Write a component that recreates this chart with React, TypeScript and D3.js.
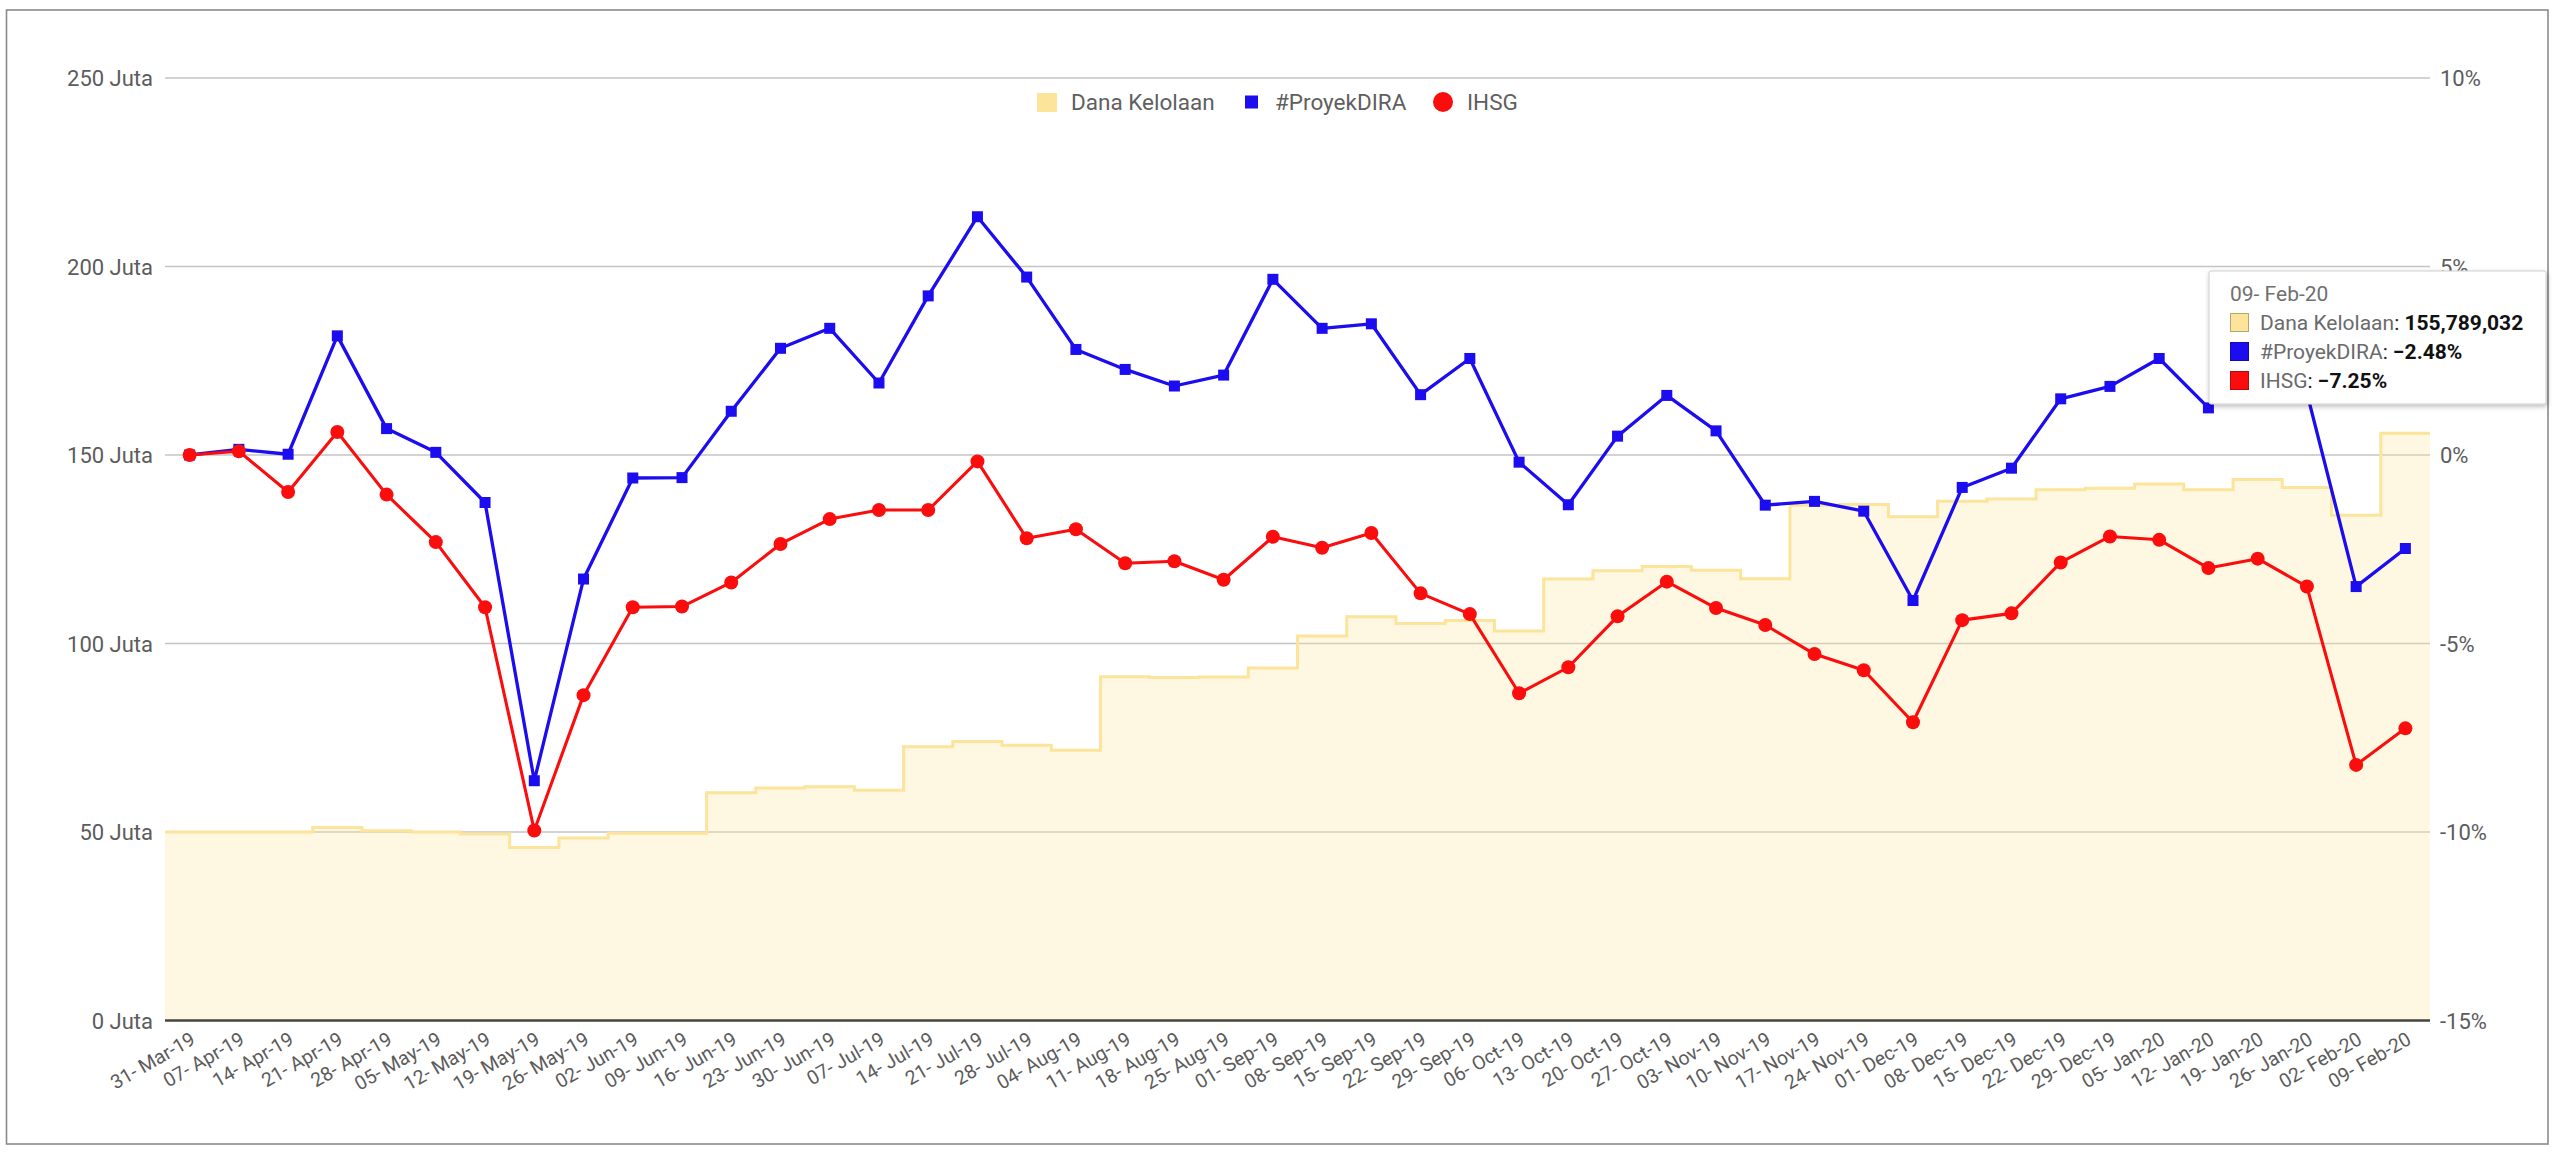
import React from "react";
import * as d3 from "d3";

const dates = [
  "31- Mar-19", "07- Apr-19", "14- Apr-19", "21- Apr-19", "28- Apr-19",
  "05- May-19", "12- May-19", "19- May-19", "26- May-19", "02- Jun-19",
  "09- Jun-19", "16- Jun-19", "23- Jun-19", "30- Jun-19", "07- Jul-19",
  "14- Jul-19", "21- Jul-19", "28- Jul-19", "04- Aug-19", "11- Aug-19",
  "18- Aug-19", "25- Aug-19", "01- Sep-19", "08- Sep-19", "15- Sep-19",
  "22- Sep-19", "29- Sep-19", "06- Oct-19", "13- Oct-19", "20- Oct-19",
  "27- Oct-19", "03- Nov-19", "10- Nov-19", "17- Nov-19", "24- Nov-19",
  "01- Dec-19", "08- Dec-19", "15- Dec-19", "22- Dec-19", "29- Dec-19",
  "05- Jan-20", "12- Jan-20", "19- Jan-20", "26- Jan-20", "02- Feb-20",
  "09- Feb-20",
];

// Dana Kelolaan in Juta (millions of rupiah)
const danaKelolaan = [
  50.0, 50.0, 50.0, 51.2, 50.3, 50.0, 49.5, 45.9, 48.4, 49.7,
  49.7, 60.4, 61.7, 62.0, 61.1, 72.6, 74.0, 73.0, 71.7, 91.2,
  91.0, 91.1, 93.5, 102.0, 107.1, 105.3, 106.1, 103.3, 117.1, 119.3,
  120.4, 119.4, 117.2, 136.7, 136.9, 133.6, 137.7, 138.3, 140.8, 141.2,
  142.3, 140.8, 143.5, 141.4, 134.0, 155.789032,
];

// #ProyekDIRA return, %
const proyekDira = [
  0.0, 0.15, 0.02, 3.16, 0.7, 0.07, -1.26, -8.64, -3.29, -0.61,
  -0.6, 1.16, 2.83, 3.36, 1.91, 4.22, 6.32, 4.72, 2.8, 2.27,
  1.83, 2.12, 4.66, 3.36, 3.48, 1.6, 2.56, -0.19, -1.32, 0.5,
  1.58, 0.64, -1.33, -1.23, -1.49, -3.86, -0.86, -0.35, 1.49, 1.82,
  2.56, 1.25, 3.4, 1.65, -3.49, -2.48,
];

// IHSG return, %
const ihsg = [
  0.0, 0.1, -0.98, 0.61, -1.05, -2.31, -4.04, -9.96, -6.37, -4.04,
  -4.02, -3.38, -2.36, -1.7, -1.46, -1.46, -0.17, -2.21, -1.97, -2.87,
  -2.82, -3.31, -2.17, -2.46, -2.07, -3.67, -4.22, -6.32, -5.63, -4.28,
  -3.36, -4.06, -4.51, -5.28, -5.71, -7.09, -4.38, -4.2, -2.85, -2.16,
  -2.25, -3.0, -2.75, -3.49, -8.22, -7.25,
];

const leftTicks = [0, 50, 100, 150, 200, 250];
const rightTicks = [-15, -10, -5, 0, 5, 10];

const seriesNames = ["Dana Kelolaan", "#ProyekDIRA", "IHSG"];
const danaColor = "#fde49b";
const diraColor = "#1c0cf0";
const ihsgColor = "#fb0d0d";

const W = 2560;
const H = 1155;
const FONT = "Roboto, 'Noto Sans', Arial, sans-serif";
const TEXT = "#5c5c5c";

export default function App() {
  const x = d3.scaleBand<string>().domain(dates).range([165, 2430]).padding(0);
  const bw = x.bandwidth();
  const cx = (d: string) => (x(d) as number) + bw / 2;
  const yL = d3.scaleLinear().domain([0, 250]).range([1020.5, 78]);
  const yR = d3.scaleLinear().domain([-15, 10]).range([1020.5, 78]);

  const last = dates.length - 1;
  const stepPts: [number, number][] = dates.map((d, i) => [x(d) as number, danaKelolaan[i]]);
  stepPts.push([(x(dates[last]) as number) + bw, danaKelolaan[last]]);

  const areaGen = d3
    .area<[number, number]>()
    .x((p) => p[0])
    .y0(yL(0))
    .y1((p) => yL(p[1]))
    .curve(d3.curveStepAfter);
  const stepLine = d3
    .line<[number, number]>()
    .x((p) => p[0])
    .y((p) => yL(p[1]))
    .curve(d3.curveStepAfter);

  const lineGen = d3
    .line<number>()
    .x((_, i) => cx(dates[i]))
    .y((v) => yR(v));

  const fmtMoney = d3.format(",.0f");
  const fmtPct = d3.format(".2f");

  const tipX = 2209;
  const tipY = 271;
  const tipRows = [
    { name: seriesNames[0], color: danaColor, value: fmtMoney(danaKelolaan[last] * 1e6) },
    { name: seriesNames[1], color: diraColor, value: fmtPct(proyekDira[last]) + "%" },
    { name: seriesNames[2], color: ihsgColor, value: fmtPct(ihsg[last]) + "%" },
  ];

  return (
    <svg
      width={W}
      height={H}
      viewBox={`0 0 ${W} ${H}`}
      style={{ position: "absolute", left: 0, top: 0, background: "#fff" }}
      fontFamily={FONT}
    >
      <defs>
        <filter id="tipShadow" x="-10%" y="-10%" width="130%" height="140%">
          <feDropShadow dx="1" dy="2" stdDeviation="2.5" floodColor="#000" floodOpacity="0.28" />
        </filter>
      </defs>
      <rect x={0} y={0} width={W} height={H} fill="#fff" />
      <rect x={6.5} y={10} width={2541.5} height={1134} fill="none" stroke="#8a8a8a" strokeWidth={1.6} />

      {/* gridlines */}
      {leftTicks
        .filter((t) => t > 0)
        .map((t) => (
          <line key={t} x1={165} x2={2430} y1={yL(t)} y2={yL(t)} stroke="#c4c4c4" strokeWidth={1.3} />
        ))}

      {/* stepped area */}
      <path d={areaGen(stepPts) || ""} fill={danaColor} fillOpacity={0.3} />
      <path d={stepLine(stepPts) || ""} fill="none" stroke={danaColor} strokeWidth={3} />

      {/* baseline */}
      <line x1={165} x2={2430} y1={yL(0)} y2={yL(0)} stroke="#46453d" strokeWidth={2.6} />

      {/* left axis labels */}
      {leftTicks.map((t) => (
        <text key={t} x={153} y={yL(t) + 8} textAnchor="end" fontSize={22} fill={TEXT}>
          {`${t} Juta`}
        </text>
      ))}
      {/* right axis labels */}
      {rightTicks.map((t) => (
        <text key={t} x={2440} y={yR(t) + 8} textAnchor="start" fontSize={22} fill={TEXT}>
          {`${t}%`}
        </text>
      ))}

      {/* x labels */}
      {dates.map((d) => (
        <text
          key={d}
          transform={`translate(${cx(d) + 7},1043) rotate(-30)`}
          textAnchor="end"
          fontSize={19.5}
          fill={TEXT}
        >
          {d}
        </text>
      ))}

      {/* #ProyekDIRA */}
      <path d={lineGen(proyekDira) || ""} fill="none" stroke={diraColor} strokeWidth={3.3} strokeLinejoin="round" />
      {proyekDira.map((v, i) => (
        <rect key={i} x={cx(dates[i]) - 5.5} y={yR(v) - 5.5} width={11} height={11} fill={diraColor} />
      ))}

      {/* IHSG */}
      <path d={lineGen(ihsg) || ""} fill="none" stroke={ihsgColor} strokeWidth={3.1} strokeLinejoin="round" />
      {ihsg.map((v, i) => (
        <circle key={i} cx={cx(dates[i])} cy={yR(v)} r={7} fill={ihsgColor} />
      ))}

      {/* legend */}
      <g fontSize={22.5} fill="#5f5f5f">
        <rect x={1037} y={93} width={20} height={19} fill={danaColor} />
        <text x={1071} y={110}>{seriesNames[0]}</text>
        <rect x={1245} y={95.5} width={13} height={13} fill={diraColor} />
        <text x={1275} y={110}>{seriesNames[1]}</text>
        <circle cx={1443} cy={102} r={10} fill={ihsgColor} />
        <text x={1467} y={110}>{seriesNames[2]}</text>
      </g>

      {/* tooltip */}
      <g>
        <rect
          x={tipX}
          y={tipY}
          width={337}
          height={133}
          rx={2}
          fill="#fff"
          stroke="#cfcfcf"
          strokeWidth={1}
          filter="url(#tipShadow)"
        />
        <text x={tipX + 21} y={tipY + 30} fontSize={21} fill="#707070">
          {dates[last]}
        </text>
        {tipRows.map((r, i) => {
          const top = tipY + 42 + i * 29;
          return (
            <g key={r.name}>
              <rect
                x={tipX + 21.5}
                y={top + 0.5}
                width={18}
                height={18}
                fill={r.color}
                stroke={d3.color(r.color)!.darker(0.9).formatHex()}
                strokeWidth={1}
              />
              <text x={tipX + 51} y={top + 17} fontSize={21}>
                <tspan fill="#6b6b6b">{r.name}</tspan>
                <tspan fill="#222">: </tspan>
                <tspan fill="#111" fontWeight="bold">{r.value}</tspan>
              </text>
            </g>
          );
        })}
      </g>
    </svg>
  );
}
